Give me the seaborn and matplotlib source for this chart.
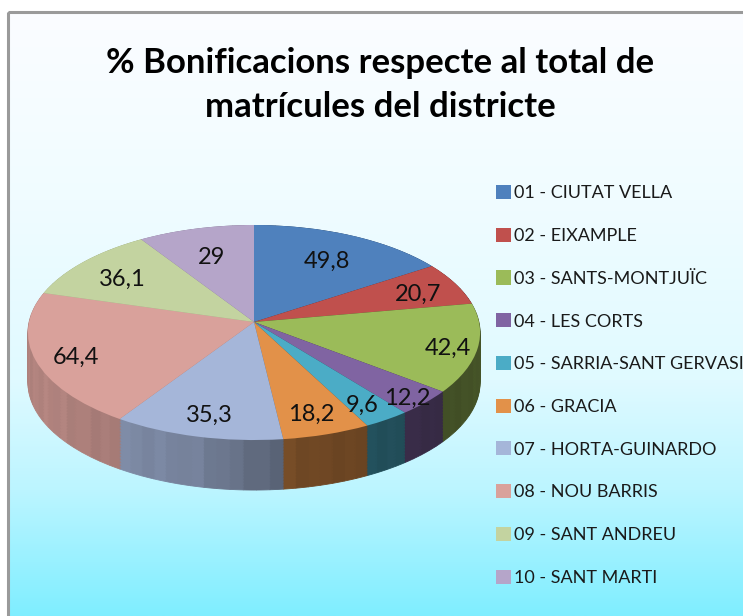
import numpy as np
import matplotlib
matplotlib.use("Agg")
import matplotlib.pyplot as plt
import seaborn as sns
from matplotlib.patches import Patch, Rectangle
from matplotlib.transforms import Transform

districts = ["01 - CIUTAT VELLA", "02 - EIXAMPLE", "03 - SANTS-MONTJUÏC", "04 - LES CORTS",
             "05 - SARRIA-SANT GERVASI", "06 - GRACIA", "07 - HORTA-GUINARDO",
             "08 - NOU BARRIS", "09 - SANT ANDREU", "10 - SANT MARTI"]
values = [49.8, 20.7, 42.4, 12.2, 9.6, 18.2, 35.3, 64.4, 36.1, 29]
value_labels = ["49,8", "20,7", "42,4", "12,2", "9,6", "18,2", "35,3", "64,4", "36,1", "29"]
title_text = "% Bonificacions respecte al total de\nmatrícules del districte"

slice_colors = ["#4F81BD", "#C0504D", "#9BBB59", "#8064A2", "#4BACC6",
                "#E29149", "#A5B6D9", "#D9A19B", "#C3D3A0", "#B5A5C9"]
label_radius = [0.73, 0.81, 0.87, 0.90, 0.83, 0.80, 0.80, 0.82, 0.76, 0.72]

sns.set_theme(style="white")
plt.rcParams["font.family"] = ["Lato", "DejaVu Sans"]
palette = sns.color_palette(slice_colors)

W, H = 743, 616
fig = plt.figure(figsize=(W / 100, H / 100), dpi=100, facecolor="white")
ax = fig.add_axes([0, 0, 1, 1])

CX, CY, RX, A, K, DEPTH = 254.0, 322.0, 225.0, 106.5, 0.0977, 50.0


class Persp(Transform):
    input_dims = output_dims = 2
    is_separable = False
    has_inverse = False

    def __init__(self, dy=0.0):
        super().__init__()
        self.dy = dy

    def transform_non_affine(self, values):
        v = np.asarray(values, dtype=float)
        d = 1 + K * v[:, 1]
        return np.column_stack([CX + RX * v[:, 0] / d, CY + self.dy - A * v[:, 1] / d])


def shade(angle):
    return np.interp(angle, [0, 100, 130, 170, 195, 240, 300, 360],
                     [0.45, 0.45, 0.42, 0.50, 0.72, 0.82, 0.8, 0.6])


# side wall: stacked pies, one below the other, split into narrow strips
strip_sizes, strip_colors = [], []
total = sum(values)
run = 0.0
for val, col in zip(values, palette):
    n = max(2, int(round(val / total * 360 / 3)))
    for j in range(n):
        mid = (run + (j + 0.5) * val / n) / total * 360
        f = shade(mid) * (1 + 0.025 * np.sin(j * 2.3))
        strip_sizes.append(val / n)
        strip_colors.append(tuple(min(1, c * f) for c in col))
    run += val

for dy in np.arange(DEPTH, 0, -1.5):
    wedges, *_ = ax.pie(strip_sizes, colors=strip_colors, startangle=90, counterclock=False,
                        wedgeprops=dict(linewidth=0.6))
    for w, c in zip(wedges, strip_colors):
        w.set_edgecolor(c)
        w.set_transform(Persp(dy) + ax.transData)

# top face
wedges, *_ = ax.pie(values, colors=palette, startangle=90, counterclock=False,
                    wedgeprops=dict(linewidth=0))
top = Persp(0.0)
for w in wedges:
    w.set_transform(top + ax.transData)

# value labels
cum = np.cumsum([0] + values)
for i, lab in enumerate(value_labels):
    th = np.deg2rad((cum[i] + values[i] / 2) / total * 360)
    p = top.transform_non_affine(np.array([[label_radius[i] * np.sin(th), label_radius[i] * np.cos(th)]]))[0]
    ax.text(p[0], p[1] + 4, lab, ha="center", va="center", fontsize=17, color="#111111", zorder=20)

# background
stops_y = [12, 200, 380, 490, 616]
stops = np.array([[0xFB, 0xFD, 0xFF], [0xF0, 0xFC, 0xFF], [0xE0, 0xFA, 0xFF],
                  [0xBC, 0xF5, 0xFF], [0x7F, 0xEE, 0xFF]]) / 255
ys = np.arange(12, 617)
grad = np.stack([np.interp(ys, stops_y, stops[:, k]) for k in range(3)], axis=1)[:, None, :]
ax.imshow(grad, extent=(7, W + 2, 616, 12), aspect="auto", zorder=-5)
ax.add_patch(Rectangle((7.5, 11.5), W + 10, H + 10, fill=False, edgecolor="#9A9A9A", linewidth=2.2, zorder=-4))

ax.set_aspect("auto")
ax.set_xlim(0, W)
ax.set_ylim(H, 0)
ax.axis("off")

ax.text(380.5, 85, title_text, ha="center", va="center", fontsize=25, fontweight="bold",
        color="black", linespacing=1.44, zorder=20)

handles = [Patch(facecolor=c, edgecolor="none") for c in palette]
ax.legend(handles, districts, loc="upper left", bbox_to_anchor=(496, 185), bbox_transform=ax.transData,
          frameon=False, fontsize=13, labelspacing=1.465, handlelength=0.82, handleheight=0.82,
          handletextpad=0.15, borderpad=0, borderaxespad=0, labelcolor="#1a1a1a")

fig.savefig("out.png", dpi=100, facecolor="white")
